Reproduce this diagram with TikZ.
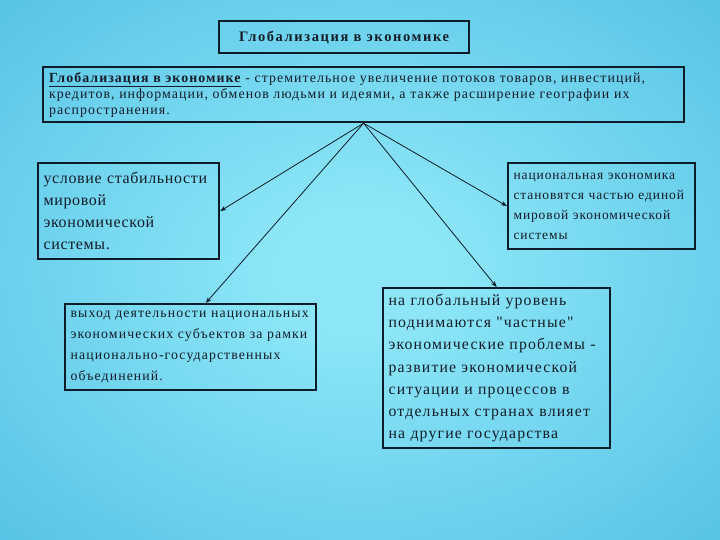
\documentclass[tikz,border=0pt]{standalone}
\usepackage{fontspec}
\setmainfont{Liberation Serif}
\usetikzlibrary{arrows.meta,calc}
\definecolor{bgin}{HTML}{8CE6F7}
\definecolor{bgout}{HTML}{27A4D6}
\definecolor{edge}{HTML}{0E1C2A}
\definecolor{txt}{HTML}{141C28}
\pgfdeclareradialshading{bgshade}{\pgfpoint{0bp}{0bp}}{color(0bp)=(bgin); color(6bp)=(bgin); color(62bp)=(bgout); color(80bp)=(bgout)}
\newcommand{\fsz}[3]{\fontsize{#1}{#2}\selectfont\addfontfeature{LetterSpace=#3}}
\begin{document}
\begin{tikzpicture}[x=1pt,y=-1pt,
  box/.style={draw=edge, line width=2.2pt, anchor=north west, align=left, text=txt, inner xsep=5pt, inner ysep=2pt},
  conn/.style={draw=edge, line width=0.8pt, -{Stealth[length=6pt,width=4.5pt]}}]
\useasboundingbox (0,0) rectangle (720,540);
\shade[shading=bgshade] (0,0) rectangle (720,540);
\node[box, minimum width=250pt, minimum height=32pt, align=center, font=\bfseries\fsz{14.5}{16}{11}] (title) at (218,20) {Глобализация в экономике};
\node[box, minimum width=641pt, minimum height=55pt, text width=629pt, font=\fsz{13.9}{16}{7.6}] (def) at (42,66)
 {\textbf{\underline{Глобализация в экономике}} - стремительное увеличение потоков товаров, инвестиций,\\
  кредитов, информации, обменов людьми и идеями, а также расширение географии их\\
  распространения.};
\node[box, minimum width=181pt, minimum height=96pt, text width=170pt, font=\fsz{16}{22}{4}] (stab) at (37,162)
 {условие стабильности\\ мировой\\ экономической\\ системы.};
\node[box, minimum width=187pt, minimum height=86pt, text width=176pt, font=\fsz{13.5}{20}{6.5}] (nat) at (507,162)
 {национальная экономика\\ становятся частью единой\\ мировой экономической\\ системы};
\node[box, minimum width=251pt, minimum height=86pt, text width=240pt, font=\fsz{13.8}{21}{8}] (exit) at (64,303)
 {выход деятельности национальных\\ экономических субъектов за рамки\\ национально-государственных\\ объединений.};
\node[box, minimum width=227pt, minimum height=160pt, text width=216pt, font=\fsz{15.8}{22.2}{7.4}] (glob) at (382,287)
 {на глобальный уровень\\ поднимаются {\addfontfeature{Ligatures=TeXOff}"частные"}\\ экономические проблемы -\\ развитие экономической\\ ситуации и процессов в\\ отдельных странах влияет\\ на другие государства};
\coordinate (exitend) at ($(exit.north west)!0.56!(exit.north east)$);
\draw[conn] (def.south) -- (stab.east);
\draw[conn] (def.south) -- (exitend);
\draw[conn] (def.south) -- (glob.north);
\draw[conn] (def.south) -- (nat.west);
\end{tikzpicture}
\end{document}
